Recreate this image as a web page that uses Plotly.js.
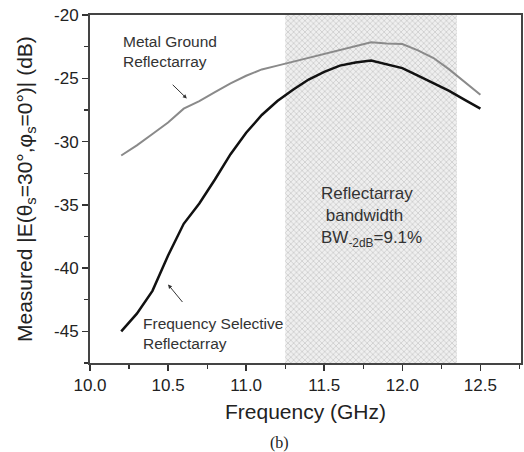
<!DOCTYPE html>
<html>
<head>
<meta charset="utf-8">
<script src="https://cdn.plot.ly/plotly-3.0.1.min.js"></script>
<style>html,body{margin:0;padding:0;background:#fff;}#chart{width:524px;height:452px;}</style>
</head>
<body>
<div id="chart"></div>
<script>
const freq = [10.2,10.3,10.4,10.5,10.6,10.7,10.8,10.9,11.0,11.1,11.2,11.3,11.4,11.5,11.6,11.7,11.8,11.9,12.0,12.1,12.2,12.3,12.4,12.5];
const metalGround = [-31.1,-30.3,-29.4,-28.5,-27.4,-26.8,-26.1,-25.4,-24.8,-24.3,-24.0,-23.7,-23.4,-23.1,-22.8,-22.5,-22.15,-22.25,-22.3,-22.8,-23.4,-24.3,-25.3,-26.3];
const freqSelective = [-45.0,-43.6,-41.8,-39.0,-36.5,-34.9,-33.0,-31.0,-29.3,-27.9,-26.8,-25.9,-25.1,-24.5,-24.0,-23.75,-23.6,-23.9,-24.2,-24.8,-25.4,-26.0,-26.7,-27.4];
const bandX = [11.25, 12.35];
const xTicks = [10.0, 10.5, 11.0, 11.5, 12.0, 12.5];
const xTickLabels = ["10.0","10.5","11.0","11.5","12.0","12.5"];
const yTicks = [-45,-40,-35,-30,-25,-20];
const yTickLabels = ["-45","-40","-35","-30","-25","-20"];
const yRange = [-47.5, -20];

const font = "Liberation Sans, Arial, sans-serif";

const traces = [
  {
    x: [bandX[0], bandX[1], bandX[1], bandX[0], bandX[0]],
    y: [yRange[0], yRange[0], yRange[1], yRange[1], yRange[0]],
    mode: 'lines', fill: 'toself', line: {width: 0},
    fillcolor: '#e6e6e6',
    fillpattern: {shape: 'x', size: 4, solidity: 0.3, fgcolor: '#c4c4c4', bgcolor: '#efefef'},
    hoverinfo: 'skip', showlegend: false
  },
  {
    x: freq, y: metalGround, mode: 'lines',
    line: {color: '#8a8a8a', width: 2}, showlegend: false
  },
  {
    x: freq, y: freqSelective, mode: 'lines',
    line: {color: '#111111', width: 2.5}, showlegend: false
  }
];

const layout = {
  width: 524, height: 452,
  margin: {l: 90, r: 3, t: 15, b: 89},
  paper_bgcolor: '#fff', plot_bgcolor: '#fff',
  font: {family: font, color: '#222'},
  showlegend: false,
  xaxis: {
    range: [10, 12.76], tickvals: xTicks, ticktext: xTickLabels,
    ticks: 'outside', ticklen: 6, tickwidth: 1.5, tickcolor: '#333',
    minor: {dtick: 0.25, tick0: 10, ticks: 'outside', ticklen: 4, tickcolor: '#333', tickwidth: 1.2},
    showline: true, linecolor: '#444', linewidth: 2, mirror: true,
    showgrid: false, zeroline: false,
    tickfont: {size: 17, family: font, color: '#222'},
    title: {text: 'Frequency (GHz)', font: {size: 21, family: font, color: '#222'}, standoff: 10}
  },
  yaxis: {
    range: yRange, tickvals: yTicks, ticktext: yTickLabels,
    ticks: 'outside', ticklen: 6, tickwidth: 1.5, tickcolor: '#333',
    minor: {dtick: 2.5, tick0: -20, ticks: 'outside', ticklen: 4, tickcolor: '#333', tickwidth: 1.2},
    showline: true, linecolor: '#444', linewidth: 2, mirror: true,
    showgrid: false, zeroline: false,
    tickfont: {size: 17, family: font, color: '#222'}
  },
  annotations: [
    {x: 0, y: 0.5, xref: 'paper', yref: 'paper', xshift: -64, xanchor: 'center', yanchor: 'middle', textangle: -90, showarrow: false,
     text: 'Measured |E(θ<sub>s</sub>=30°,φ<sub>s</sub>=0°)| (dB)', font: {size: 21, family: font, color: '#222'}},
    {x: 10.2, y: -22.85, xref: 'x', yref: 'y', xanchor: 'left', yanchor: 'middle', align: 'left', showarrow: false,
     text: 'Metal Ground<br>Reflectarray', font: {size: 15.5, family: font, color: '#333'}},
    {x: 10.62, y: -26.6, ax: 10.52, ay: -25.4, xref: 'x', yref: 'y', axref: 'x', ayref: 'y',
     showarrow: true, arrowhead: 2, arrowsize: 0.8, arrowwidth: 1, arrowcolor: '#333', text: ''},
    {x: 10.325, y: -45.15, xref: 'x', yref: 'y', xanchor: 'left', yanchor: 'middle', align: 'left', showarrow: false,
     text: 'Frequency Selective<br>Reflectarray', font: {size: 15.5, family: font, color: '#333'}},
    {x: 10.5, y: -41.3, ax: 10.6, ay: -42.8, xref: 'x', yref: 'y', axref: 'x', ayref: 'y',
     showarrow: true, arrowhead: 2, arrowsize: 0.8, arrowwidth: 1, arrowcolor: '#333', text: ''},
    {x: 11.8, y: -36.0, xref: 'x', yref: 'y', xanchor: 'center', yanchor: 'middle', align: 'left', showarrow: false,
     text: 'Reflectarray<br> bandwidth<br>BW<sub>-2dB</sub>=9.1%', font: {size: 17, family: font, color: '#333'}},
    {x: 0.44, y: 0, xref: 'paper', yref: 'paper', yshift: -80, xanchor: 'center', yanchor: 'middle', showarrow: false,
     text: '(b)', font: {size: 16, family: 'Liberation Serif, Times New Roman, serif', color: '#222'}}
  ]
};

Plotly.newPlot('chart', traces, layout, {displayModeBar: false, staticPlot: true});
</script>
</body>
</html>
